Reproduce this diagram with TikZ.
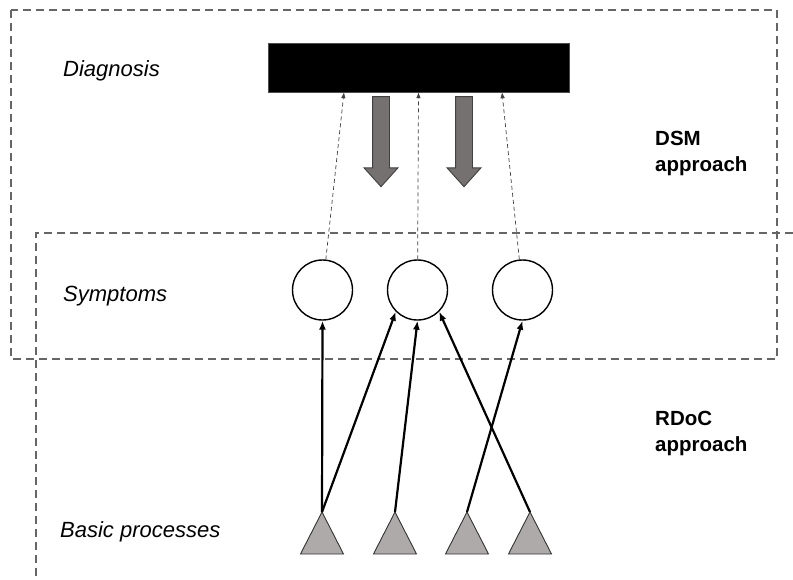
\documentclass[tikz,border=0pt]{standalone}
\usepackage{fontspec}
\setmainfont{Liberation Sans}
\usetikzlibrary{positioning,shapes.arrows,arrows.meta}

\definecolor{procgray}{HTML}{AEAAAA}
\definecolor{arrgray}{HTML}{767171}

\begin{document}
\begin{tikzpicture}[
x=1pt,y=-1pt,
zone/.style={
  draw=black!60,
  line width=1.6pt,
  dash pattern=on 8pt off 5pt
},
lvl/.style={
  anchor=base west,
  inner sep=0pt,
  font=\fontsize{22}{26}\selectfont\itshape
},
appr/.style={
  anchor=base west,
  inner sep=0pt,
  align=left,
  font=\fontsize{20.5}{26}\selectfont\bfseries
},
symp/.style={
  draw,
  circle,
  line width=1.4pt,
  minimum size=60pt,
  inner sep=0pt
},
proc/.style={
  draw=black!80,
  fill=procgray,
  line width=0.9pt,
  line join=miter
},
bigarr/.style={
  draw=black!75,
  fill=arrgray,
  line width=0.9pt,
  single arrow,
  shape border rotate=270,
  minimum height=90pt,
  minimum width=33pt,
  single arrow head extend=8.5pt,
  single arrow tip angle=84,
  single arrow head indent=0pt,
  inner sep=8pt
},
vote/.style={
  draw=black!75,
  line width=0.7pt,
  dash pattern=on 4pt off 3pt,
  -{Latex[length=6pt,width=4.5pt]}
},
cause/.style={
  line width=2.2pt,
  -{Latex[length=9pt,width=7pt]}
}
]
\useasboundingbox (0,0) rectangle (793,579);

% the two approaches
\draw[zone] (11,10) rectangle (777,359);
\draw[zone] (793,233) -- (36,233) -- (36,579);

% levels
\node[lvl] (ldiag) at (63,76) {Diagnosis};
\node[lvl] (lsymp) at (63,301) {Symptoms};
\node[lvl] (lproc) at (60,537) {Basic processes};

% base sits on the last line here
\node[appr] (dsm) at (655,171) {DSM\\approach};
\node[appr] (rdoc) at (655,451) {RDoC\\approach};

% diagnosis bar and its top-down arrows
\node[fill=black,draw=black!70,minimum width=301pt,minimum height=49pt,inner sep=0pt]
  (dx) at (418.5,67.5) {};
\node[bigarr] (d1) at (381,137) {};
\node[bigarr] (d2) at (464,137) {};

% symptoms
\node[symp] (s1) at (322.5,290) {};
\node[symp] (s2) at (417.5,290) {};
\node[symp] (s3) at (522.5,290) {};

\draw[vote] (s1) -- ([xshift=-74.5pt]dx.south);
\draw[vote] (s2) -- (dx.south);
\draw[vote] (s3) -- ([xshift=83.5pt]dx.south);

% basic processes
\foreach \i/\x in {1/322,2/395,3/467,4/530}{
  \coordinate (b\i) at (\x,512);
  \draw[proc] (b\i) -- ++(21.5,42) -- ++(-43,0) -- cycle;
}

\draw[cause] (b1) -- (s1.south);
\draw[cause] (b1) -- (s2.south west);
\draw[cause] (b2) -- (s2.south);
\draw[cause] (b4) -- (s2.south east);
\draw[cause] (b3) -- (s3.south);
\end{tikzpicture}
\end{document}
